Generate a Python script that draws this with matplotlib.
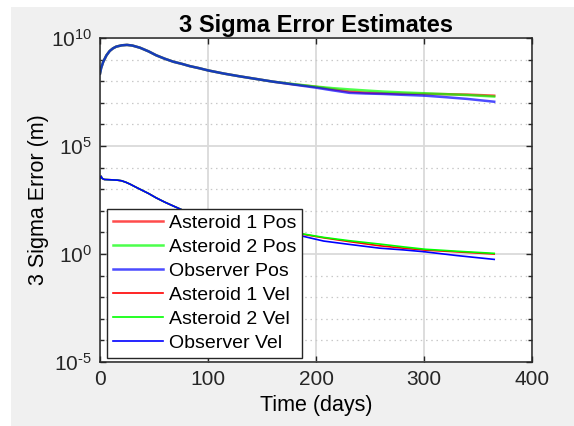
import numpy as np
import matplotlib
matplotlib.use("Agg")
import matplotlib.pyplot as plt
from matplotlib.patches import Rectangle
from matplotlib.ticker import FixedFormatter, NullFormatter

plt.rcParams['font.family'] = ['Liberation Sans', 'DejaVu Sans']
plt.rcParams['mathtext.fontset'] = 'custom'
plt.rcParams['mathtext.rm'] = 'Liberation Sans'
plt.rcParams['axes.unicode_minus'] = False

# ---------- data (log10 of the 3 sigma error) ----------
t_pos = [0, 1, 3, 6, 9, 12, 15, 20, 25, 30, 37, 45, 52, 60, 68, 76, 83, 92, 100,
         115, 130, 145, 160, 180, 200, 215, 231, 246, 262, 280, 301, 320, 340, 365]
pos_common = [8.35, 8.6, 8.9, 9.2, 9.4, 9.52, 9.6, 9.66, 9.68, 9.65, 9.55, 9.38,
              9.2, 9.04, 8.9, 8.8, 8.7, 8.6, 8.5, 8.35, 8.22, 8.1, 7.98]
ast1_pos_log = pos_common + [7.85, 7.74, 7.63, 7.52, 7.47, 7.44, 7.42, 7.41, 7.40, 7.38, 7.33]
ast2_pos_log = pos_common + [7.86, 7.75, 7.68, 7.62, 7.57, 7.52, 7.48, 7.44, 7.40, 7.36, 7.29]
obs_pos_log = pos_common + [7.84, 7.70, 7.58, 7.46, 7.43, 7.41, 7.37, 7.33, 7.26, 7.18, 7.05]

t_vel = [0, 1, 2, 4, 8, 12, 16, 20, 24, 28, 33, 37, 45, 52, 60, 68, 77, 90, 100,
         115, 130, 150, 170, 188, 207, 230, 259, 281, 301, 330, 365]
vel_common = [3.5, 3.6, 3.5, 3.45, 3.44, 3.43, 3.42, 3.39, 3.32, 3.23, 3.1, 3.0,
              2.8, 2.6, 2.4, 2.22, 2.02, 1.8, 1.65, 1.45, 1.3, 1.12]
ast1_vel_log = vel_common + [0.98, 0.91, 0.75, 0.58, 0.38, 0.27, 0.18, 0.10, 0.00]
ast2_vel_log = vel_common + [0.99, 0.93, 0.77, 0.62, 0.46, 0.33, 0.22, 0.13, 0.03]
obs_vel_log = vel_common + [0.96, 0.82, 0.60, 0.45, 0.27, 0.19, 0.10, -0.07, -0.25]

labels = ["Asteroid 1 Pos", "Asteroid 2 Pos", "Observer Pos",
          "Asteroid 1 Vel", "Asteroid 2 Vel", "Observer Vel"]
colors = ["#ff0000", "#00ff00", "#0000ff"]
y_major = [1e-5, 1e0, 1e5, 1e10]
y_major_labels = [r"$\mathdefault{10^{\text{-}5}}$", r"$\mathdefault{10^{0}}$",
                  r"$\mathdefault{10^{5}}$", r"$\mathdefault{10^{10}}$"]

dark = "#262626"

fig = plt.figure(figsize=(5.74, 4.26), dpi=100)
fig.patch.set_facecolor("white")
fig.add_artist(Rectangle((11 / 574, 0), 1, (426 - 6.5) / 426, transform=fig.transFigure,
                         facecolor="#f0f0f0", edgecolor="none", zorder=-10))
ax = fig.add_axes([100 / 574, 64 / 426, 432 / 574, 324 / 426])

for series, c, lab in zip([ast1_pos_log, ast2_pos_log, obs_pos_log], colors, labels[:3]):
    ax.plot(t_pos, 10 ** np.array(series), color=c, lw=1.8, alpha=0.7, label=lab)
for series, c, lab in zip([ast1_vel_log, ast2_vel_log, obs_vel_log], colors, labels[3:]):
    ax.plot(t_vel, 10 ** np.array(series), color=c, lw=1.2, label=lab)

ax.set_yscale("log")
ax.set_xlim(0, 400)
ax.set_ylim(1e-5, 1e10)
ax.set_xticks([0, 100, 200, 300, 400])
ax.set_yticks(y_major)
ax.yaxis.set_major_formatter(FixedFormatter(y_major_labels))
ax.set_yticks([10.0 ** k for k in range(-5, 11) if k % 5 != 0], minor=True)
ax.yaxis.set_minor_formatter(NullFormatter())

ax.grid(True, which="major", color="#dadada", lw=1.3)
ax.grid(True, which="minor", axis="y", color="#c8c8c8", lw=0.9, linestyle=(0, (1.2, 3)))
ax.set_axisbelow(True)

ax.tick_params(which="both", direction="in", top=True, right=True, colors=dark,
               labelsize=15, pad=6)
ax.tick_params(which="major", length=4, width=1)
ax.tick_params(which="minor", length=3, width=1)
for s in ax.spines.values():
    s.set_color(dark)
    s.set_linewidth(1.1)

ax.set_xlabel("Time (days)", fontsize=15.5, color="black", labelpad=4)
ax.set_ylabel("3 Sigma Error (m)", fontsize=15.5, color="black", labelpad=1)
ax.set_title("3 Sigma Error Estimates", fontsize=17, fontweight="bold", pad=4)

leg = ax.legend(loc="lower left", bbox_to_anchor=(0.016, 0.012), borderaxespad=0,
                fontsize=14, fancybox=False, framealpha=1, edgecolor=dark,
                labelspacing=0.33, handlelength=2.6, handletextpad=0.3, borderpad=0.3)
leg.get_frame().set_linewidth(1.0)

fig.savefig("out.png", dpi=100, facecolor=fig.get_facecolor())
